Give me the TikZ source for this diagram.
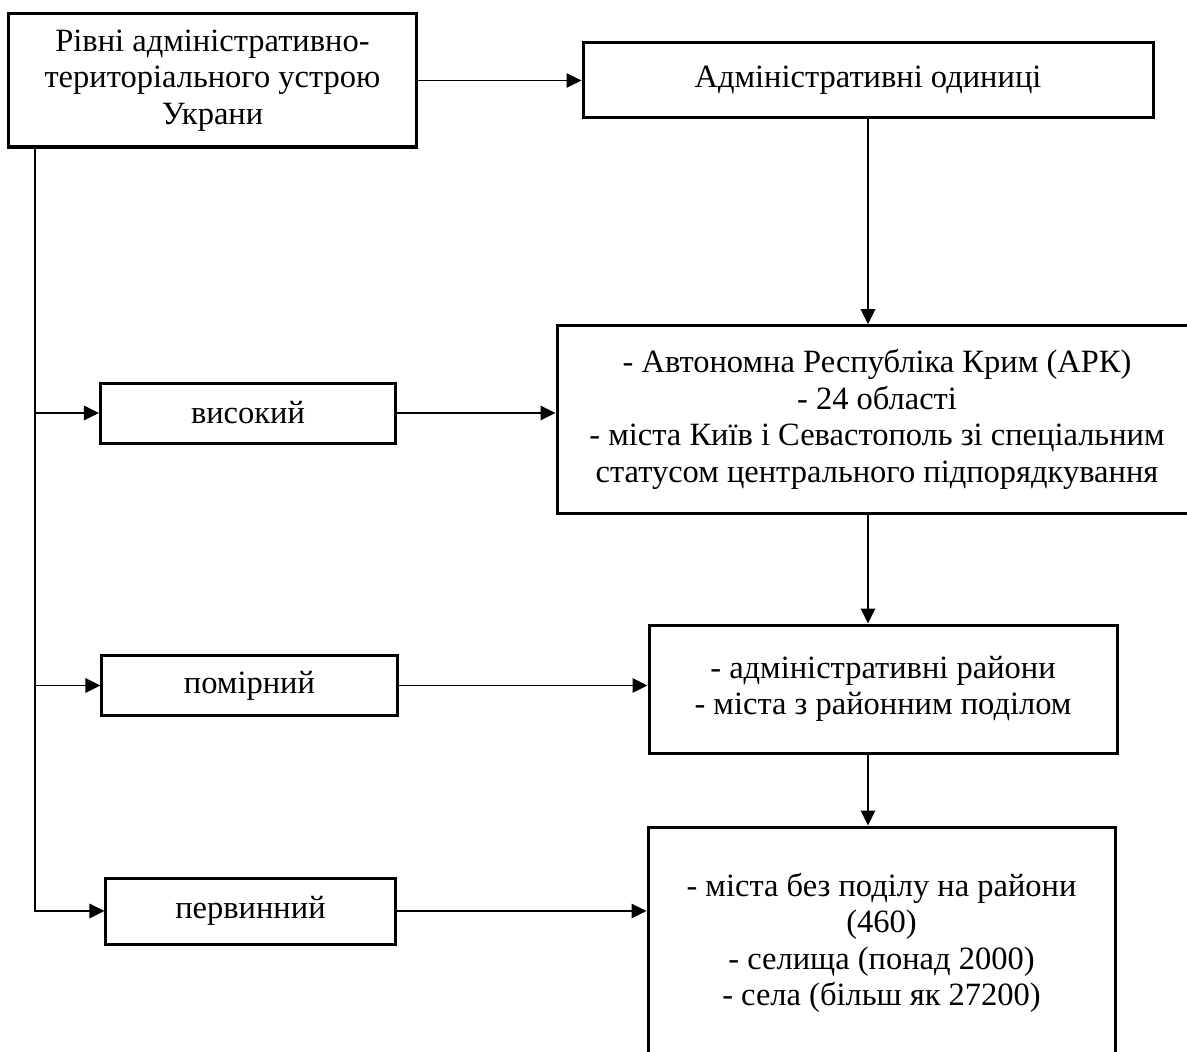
\documentclass[tikz,border=0pt]{standalone}
\usepackage{fontspec}
\setmainfont{Liberation Serif}
\usetikzlibrary{arrows.meta, positioning, calc}

\begin{document}
\begin{tikzpicture}[
    x=0.4pt, y=-0.4pt,
    font=\fontsize{13}{14.6}\selectfont,
    box/.style  = {draw=black, line width=1.2pt, align=center, inner sep=0pt},
    lvl/.style  = {box, minimum width=118pt, minimum height=24pt},
    con/.style  = {-{Triangle[length=6pt, width=5.8pt]}, draw=black, line width=0.5pt},
    lin/.style  = {draw=black, line width=0.5pt}
  ]
  \clip (0,0) rectangle (1187,1052);

  % --- head boxes ---
  \node[box, minimum width=162.8pt, minimum height=53.2pt] (T) at (212.5,80.5)
       {Рівні адміністративно-\\територіального устрою\\Украни};
  \node[box, minimum width=228pt, minimum height=30pt] (A) at (868,80.5)
       {Адміністративні одиниці};

  % --- levels (left column) ---
  \node[lvl] (V) at (248,413) {високий};
  \node[lvl] (P) at (249.5,685.5) {помірний};
  \node[lvl, minimum width=115.6pt, minimum height=26.4pt] (F) at (250.5,911) {первинний};

  % --- units (right column) ---
  \node[box, minimum width=256pt, minimum height=75pt] (H) at (877,419.5)
       {- Автономна Республіка Крим (АРК)\\- 24 області\\- міста Київ і Севастополь зі спеціальним\\статусом центрального підпорядкування};
  \node[box, minimum width=187.2pt, minimum height=51.2pt] (M) at (883,689)
       {- адміністративні райони\\- міста з районним поділом};
  \node[box, minimum width=186.8pt, minimum height=92.8pt] (B) at (881.5,943)
       {- міста без поділу на райони\\(460)\\- селища (понад 2000)\\- села (більш як 27200)};

  % --- trunk on the left ---
  \coordinate (trunk) at (35,147);
  \draw[con] (trunk) |- (F.west);
  \draw[con] (trunk |- V.west) -- (V.west);
  \draw[con] (trunk |- P.west) -- (P.west);

  % --- connectors ---
  \draw[con] (T.east) -- (A.west);
  \draw[con] (A.south) -- (A.south |- H.north);
  \draw[con] (V.east) -- (V.east -| H.west);
  \draw[con] (A.south |- H.south) -- (A.south |- M.north);
  \draw[con] (P.east) -- (P.east -| M.west);
  \draw[con] (A.south |- M.south) -- (A.south |- B.north);
  \draw[con] (F.east) -- (F.east -| B.west);

\end{tikzpicture}
\end{document}
